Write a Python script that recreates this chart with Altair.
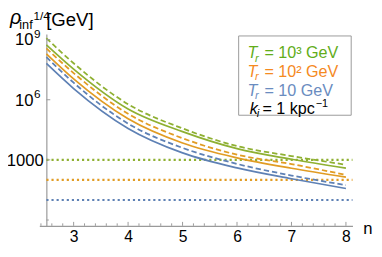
import altair as alt
import pandas as pd

FONT = "Liberation Sans"
GRAY = "#9a9a9a"
BLUE = "#5E81B5"
ORANGE = "#E19C24"
GREEN = "#8FB032"
GREEN_TXT = "#62AD1A"
ORANGE_TXT = "#F58A1F"
BLUE_TXT = "#6A8CC0"

# n values and log10 of rho_inf^(1/4) [GeV]
N = [2.5, 3, 4, 5, 6, 7, 8]
GREEN_SOLID_EXP = [8.74, 7.53, 5.54, 4.41, 3.56, 3.03, 2.59]
GREEN_DASHED_EXP = [9.07, 7.82, 5.78, 4.57, 3.69, 3.19, 2.76]
ORANGE_SOLID_EXP = [8.29, 7.04, 5.05, 3.84, 3.10, 2.58, 2.14]
ORANGE_DASHED_EXP = [8.56, 7.33, 5.30, 4.08, 3.26, 2.79, 2.25]
BLUE_SOLID_EXP = [7.81, 6.56, 4.57, 3.35, 2.60, 2.06, 1.57]
BLUE_DASHED_EXP = [8.13, 6.85, 4.81, 3.60, 2.80, 2.22, 1.74]

# horizontal dotted levels (T_r)
LEVELS = [1000, 100, 10]
LEVEL_COLORS = [GREEN, ORANGE, BLUE]

X_TICKS = [3, 4, 5, 6, 7, 8]
X_MINOR = [round(2.4 + 0.2 * i, 1) for i in range(29)]
Y_TICKS = [1000, 1e6, 1e9]
Y_MINOR = [1]
# y tick labels: base text and superscript
Y_LABEL_BASE = ["1000", "10", "10"]
Y_LABEL_SUP = ["", "6", "9"]

X_DOMAIN = [2.37, 8.12]
Y_DOMAIN = [10 ** -0.29, 10 ** 9.28]
W, H = 320, 196

def series_df(items):
    rows = []
    for name, exps, color in items:
        for n, e in zip(N, exps):
            rows.append({"n": n, "v": 10 ** e, "series": name, "color": color})
    return pd.DataFrame(rows)

solid_df = series_df([
    ("gs", GREEN_SOLID_EXP, GREEN),
    ("os", ORANGE_SOLID_EXP, ORANGE),
    ("bs", BLUE_SOLID_EXP, BLUE),
])
dashed_df = series_df([
    ("gd", GREEN_DASHED_EXP, GREEN),
    ("od", ORANGE_DASHED_EXP, ORANGE),
    ("bd", BLUE_DASHED_EXP, BLUE),
])
levels_df = pd.DataFrame({"level": LEVELS, "color": LEVEL_COLORS,
                          "x0": [2.5] * 3, "x1": [X_DOMAIN[1]] * 3})

xs = alt.Scale(domain=X_DOMAIN, nice=False, zero=False)
ys = alt.Scale(type="log", domain=Y_DOMAIN, nice=False)

x_axis = alt.Axis(values=X_TICKS, title=None, grid=False, tickSize=0, labelPadding=3,
                  labelFontSize=16, labelFont=FONT, labelColor="black",
                  domainColor=GRAY, domainWidth=1.2, labelAngle=0, format="d")
y_axis = alt.Axis(values=Y_TICKS, title=None, grid=False, tickSize=0, labels=False,
                  domainColor=GRAY, domainWidth=1.2, offset=-7.2)

X = alt.X("n:Q", scale=xs, axis=x_axis)
Y = alt.Y("v:Q", scale=ys, axis=y_axis)

solid = alt.Chart(solid_df).mark_line(strokeWidth=1.7, interpolate="monotone", clip=True).encode(
    x=X, y=Y, color=alt.Color("color:N", scale=None), detail="series:N")
dashed = alt.Chart(dashed_df).mark_line(strokeWidth=1.8, strokeDash=[5.5, 3], interpolate="monotone", clip=True).encode(
    x=X, y=Y, color=alt.Color("color:N", scale=None), detail="series:N")

dotted = alt.Chart(levels_df).mark_rule(strokeWidth=2.2, strokeDash=[2.2, 3]).encode(
    x=alt.X("x0:Q", scale=xs, axis=x_axis), x2="x1:Q",
    y=alt.Y("level:Q", scale=ys, axis=y_axis),
    color=alt.Color("color:N", scale=None))

xt_df = pd.DataFrame({"t": X_MINOR, "len": [4 if abs(t - round(t)) < 1e-9 else 2.5 for t in X_MINOR]})
xt_df["y0"] = H
xt_df["y1"] = H - xt_df["len"]
xticks = alt.Chart(xt_df).mark_rule(color=GRAY, strokeWidth=1).encode(
    x=alt.X("t:Q", scale=xs, axis=x_axis),
    y=alt.Y("y0:Q", scale=None), y2="y1:Q")

yt_df = pd.DataFrame({"t": Y_TICKS + Y_MINOR, "len": [4, 4, 4, 2.5]})
yt_df["x0"] = 7.2
yt_df["x1"] = 7.2 + yt_df["len"]
yticks = alt.Chart(yt_df).mark_rule(color=GRAY, strokeWidth=1).encode(
    y=alt.Y("t:Q", scale=ys, axis=y_axis),
    x=alt.X("x0:Q", scale=None), x2="x1:Q")

# y tick labels drawn through the y scale
yl_df = pd.DataFrame({"t": Y_TICKS, "base": Y_LABEL_BASE, "sup": Y_LABEL_SUP})
ylab_base = alt.Chart(yl_df).mark_text(align="right", baseline="middle", font=FONT, fontSize=17,
                                       color="black", dy=1).encode(
    y=alt.Y("t:Q", scale=ys, axis=y_axis),
    x=alt.X("xb:Q", scale=None), text="base:N").transform_calculate(
    xb="datum.sup == '' ? 4.5 : -6")
ylab_sup = alt.Chart(yl_df).mark_text(align="left", baseline="middle", font=FONT, fontSize=12,
                                      color="black", dy=-6).encode(
    y=alt.Y("t:Q", scale=ys, axis=y_axis),
    x=alt.value(-5.5), text="sup:N")

box = alt.Chart(pd.DataFrame({"a": [0]})).mark_rect(fill="white", stroke=GRAY, strokeWidth=1).encode(
    x=alt.value(203.7), x2=alt.value(318.7), y=alt.value(2), y2=alt.value(83))

# text pieces: (text, px, py, size, color, italic)
pieces = [
    ("T", 212.7, 24.7, 16.5, GREEN_TXT, True),
    ("r", 220.3, 28.2, 11.5, GREEN_TXT, True),
    ("= 10³ GeV", 230, 24.7, 16.5, GREEN_TXT, False),
    ("T", 212.7, 44, 16.5, ORANGE_TXT, True),
    ("r", 220.3, 47.5, 11.5, ORANGE_TXT, True),
    ("= 10² GeV", 230, 44, 16.5, ORANGE_TXT, False),
    ("T", 212.7, 63, 16.5, BLUE_TXT, True),
    ("r", 220.3, 66.5, 11.5, BLUE_TXT, True),
    ("= 10 GeV", 230, 63, 16.5, BLUE_TXT, False),
    ("k", 215, 81.3, 16.5, "black", True),
    ("i", 222.3, 84.8, 11.5, "black", True),
    ("= 1 kpc", 228, 81.3, 16.5, "black", False),
    ("−1", 282.5, 74.5, 11, "black", False),
    ("ρ", -30, -10.5, 20, "black", True),
    ("inf", -20.5, -5, 13, "black", False),
    ("1/4", -6, -14, 12, "black", False),
    ("[GeV]", 7, -8, 19, "black", False),
    ("n", 331, 204.5, 17, "black", False),
]
tdf = pd.DataFrame(pieces, columns=["text", "px", "py", "fs", "c", "it"])

def text_layer(df, style):
    return alt.Chart(df).mark_text(align="left", baseline="alphabetic", font=FONT, fontStyle=style).encode(
        x=alt.X("px:Q", scale=None), y=alt.Y("py:Q", scale=None),
        text="text:N", size=alt.Size("fs:Q", scale=None), color=alt.Color("c:N", scale=None))

t_it = text_layer(tdf[tdf["it"]], "italic")
t_rg = text_layer(tdf[~tdf["it"]], "normal")

chart = alt.layer(dotted, solid, dashed, xticks, yticks, ylab_base, ylab_sup, box, t_it, t_rg).properties(
    width=W, height=H,
    padding={"left": 32, "top": 24, "right": 22, "bottom": 16},
    autosize=alt.AutoSizeParams(type="none"),
    background="white",
).configure_view(stroke=None)

chart.save("out.html", embed_options={"renderer": "svg", "actions": False})
